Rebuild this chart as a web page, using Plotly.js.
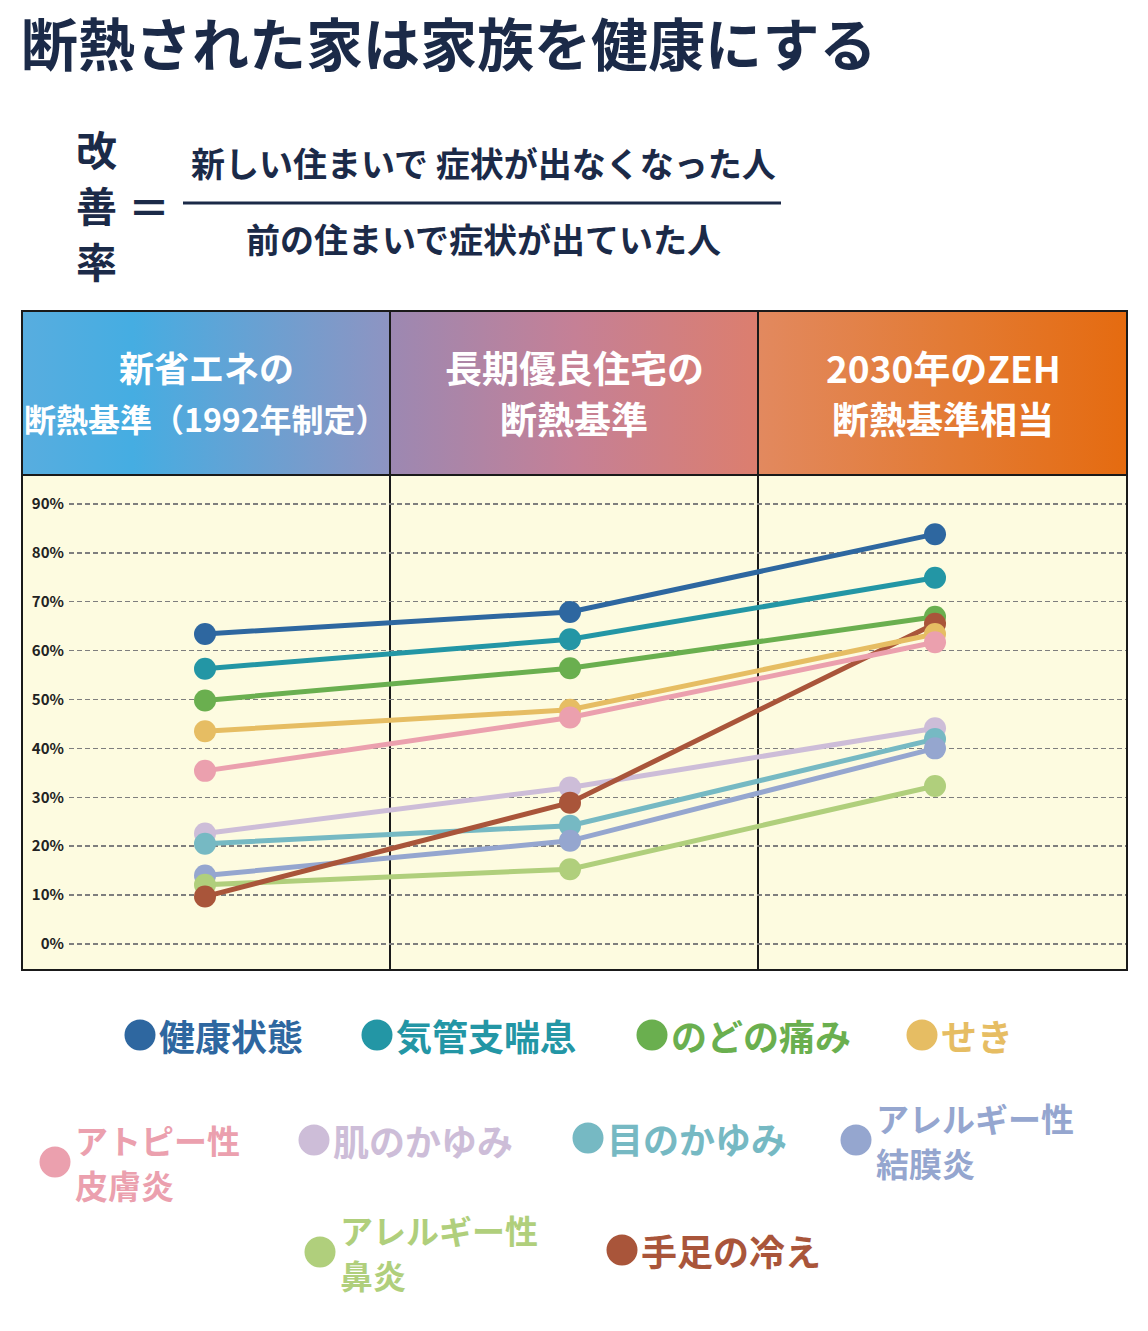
<!DOCTYPE html>
<html>
<head>
<meta charset="utf-8">
<script src="https://cdn.plot.ly/plotly-3.0.1.min.js"></script>
<style>
  body { margin: 0; background: #fff; }
  #chart { width: 1148px; height: 1331px; }
</style>
</head>
<body>
<div id="chart"></div>
<script>
// --- data ---
const standards = ['新省エネの断熱基準（1992年制定）', '長期優良住宅の断熱基準', '2030年のZEH断熱基準相当'];
const headerLines = [
  ['新省エネの', '断熱基準（1992年制定）'],
  ['長期優良住宅の', '断熱基準'],
  ['2030年のZEH', '断熱基準相当']
];
const symptoms = ['健康状態', '気管支喘息', 'のどの痛み', 'せき', 'アトピー性皮膚炎',
  '肌のかゆみ', '目のかゆみ', 'アレルギー性結膜炎', 'アレルギー性鼻炎', '手足の冷え'];
const legendLabels = ['健康状態', '気管支喘息', 'のどの痛み', 'せき', 'アトピー性<br>皮膚炎',
  '肌のかゆみ', '目のかゆみ', 'アレルギー性<br>結膜炎', 'アレルギー性<br>鼻炎', '手足の冷え'];
const kenko = [63.4, 67.9, 83.8];
const kikanshi = [56.3, 62.3, 74.9];
const nodo = [49.8, 56.4, 66.9];
const seki = [43.5, 47.9, 63.4];
const atopy = [35.4, 46.3, 61.7];
const hada = [22.6, 32.0, 44.1];
const me = [20.5, 24.2, 41.9];
const ketsumaku = [14.0, 21.1, 40.0];
const bien = [12.1, 15.3, 32.3];
const hiecho = [9.7, 28.9, 65.5];
const yTicks = [0, 10, 20, 30, 40, 50, 60, 70, 80, 90];
const yTickText = yTicks.map(v => v + '%');

// --- styling ---
const series = [kenko, kikanshi, nodo, seki, atopy, hada, me, ketsumaku, bien, hiecho];
const colors = ['#2e67a0', '#2396a5', '#6aaf4f', '#e6bd63', '#eba0ae',
  '#cdbdd8', '#76b9c3', '#95a6cf', '#b0cf7c', '#a9553a'];
// drawing order so the overlapping dots stack like the original
const drawOrder = [0, 1, 2, 5, 6, 7, 8, 9, 3, 4];
// legend dot centres in page pixels
const legendDots = [[140, 1035], [377, 1035], [652, 1035], [922, 1035],
  [55, 1162], [314, 1140], [588, 1138], [856, 1140], [320, 1252], [622, 1250]];
const navy = '#1b2a48';
const FONT = '"Noto Sans CJK JP", "Noto Sans", sans-serif';

const L = 69, R = 1127, T = 475, B = 970;
const px = x => (x - L) / (R - L);
const py = y => (B - y) / (B - T);

function ann(text, x, y, size, color, xanchor) {
  return {
    text: text, x: px(x), y: py(y), xref: 'paper', yref: 'paper',
    xanchor: xanchor || 'center', yanchor: 'middle', showarrow: false,
    align: xanchor || 'center', borderpad: 0,
    font: {family: FONT, size: size, color: color, weight: 700}
  };
}

let traces = drawOrder.map(i => ({
  type: 'scatter',
  mode: 'lines+markers',
  name: symptoms[i],
  x: standards,
  y: series[i],
  line: {color: colors[i], width: 5},
  marker: {color: colors[i], size: 22},
  hoverinfo: 'skip',
  showlegend: false
}));

let annotations = [];
annotations.push(ann('断熱された家は家族を健康にする', 20, 41, 57, navy, 'left'));
['改', '善', '率'].forEach((ch, k) => annotations.push(ann(ch, 96, 148 + 56 * k, 41, navy)));
annotations.push(ann('＝', 149, 205, 42, navy));
annotations.push(ann('新しい住まいで 症状が出なくなった人', 483, 163, 34, navy));
annotations.push(ann('前の住まいで症状が出ていた人', 483, 238, 34, navy));

const colCentres = [206, 574, 943];
headerLines.forEach((lines, c) => {
  annotations.push(ann(lines[0], colCentres[c], 367, c === 0 ? 35 : 37, '#ffffff'));
  annotations.push(ann(lines[1], colCentres[c], 418, c === 0 ? 32 : 37, '#ffffff'));
});

let shapes = [];
// cream panel left of the gridlines
shapes.push({type: 'rect', xref: 'paper', yref: 'paper', x0: px(22), x1: px(1127), y0: py(970), y1: py(475),
  fillcolor: '#fdfbe0', line: {width: 0}, layer: 'below'});

legendLabels.forEach((lab, i) => {
  const [dx, dy] = legendDots[i];
  shapes.push({type: 'circle', xref: 'paper', yref: 'paper', xsizemode: 'pixel', ysizemode: 'pixel',
    xanchor: px(dx), yanchor: py(dy), x0: -15.5, x1: 15.5, y0: -15.5, y1: 15.5,
    fillcolor: colors[i], line: {width: 0}});
  const parts = lab.split('<br>');
  if (parts.length === 1) {
    annotations.push(ann(parts[0], dx + 18, dy, 36, colors[i], 'left'));
  } else {
    annotations.push(ann(parts[0], dx + 19, dy - 22.5, 33, colors[i], 'left'));
    annotations.push(ann(parts[1], dx + 19, dy + 22.5, 33, colors[i], 'left'));
  }
});

// fraction bar
shapes.push({type: 'line', xref: 'paper', yref: 'paper', x0: px(183), x1: px(781), y0: py(203), y1: py(203),
  line: {color: navy, width: 3}});
// frame and column dividers
const black = '#1a1a1a';
shapes.push({type: 'rect', xref: 'paper', yref: 'paper', x0: px(22), x1: px(1127), y0: py(970), y1: py(311),
  line: {color: black, width: 2}});
shapes.push({type: 'line', xref: 'paper', yref: 'paper', x0: px(22), x1: px(1127), y0: py(475), y1: py(475),
  line: {color: black, width: 2}});
[390, 758].forEach(x => shapes.push({type: 'line', xref: 'paper', yref: 'paper', x0: px(x), x1: px(x),
  y0: py(970), y1: py(311), line: {color: black, width: 2}, layer: 'below'}));

// gradient header bands
const svg = "<svg xmlns='http://www.w3.org/2000/svg' width='1105' height='164' viewBox='0 0 1105 164' preserveAspectRatio='none'>" +
  "<defs>" +
  "<linearGradient id='a'><stop offset='0' stop-color='#58addf'/><stop offset='0.3' stop-color='#45ade2'/><stop offset='1' stop-color='#8e94c2'/></linearGradient>" +
  "<linearGradient id='b'><stop offset='0' stop-color='#9c88b2'/><stop offset='0.5' stop-color='#c58096'/><stop offset='1' stop-color='#dc7e6e'/></linearGradient>" +
  "<linearGradient id='c'><stop offset='0' stop-color='#e2895f'/><stop offset='0.55' stop-color='#e37a32'/><stop offset='1' stop-color='#e56b10'/></linearGradient>" +
  "</defs>" +
  "<rect x='0' y='0' width='368' height='164' fill='url(#a)'/>" +
  "<rect x='368' y='0' width='368' height='164' fill='url(#b)'/>" +
  "<rect x='736' y='0' width='369' height='164' fill='url(#c)'/>" +
  "</svg>";

const layout = {
  width: 1148,
  height: 1331,
  margin: {l: L, r: 1148 - R, t: T, b: 1331 - B, pad: 0},
  paper_bgcolor: '#ffffff',
  plot_bgcolor: '#fdfbe0',
  xaxis: {
    type: 'category',
    categoryarray: standards,
    range: [-0.3726, 2.526],
    showgrid: false, zeroline: false, showline: false, showticklabels: false, ticks: ''
  },
  yaxis: {
    range: [-5.32, 95.9],
    tickvals: yTicks,
    ticktext: yTickText,
    showgrid: true,
    gridcolor: '#7e7e7e',
    gridwidth: 1.5,
    griddash: '5px,3px',
    zeroline: false,
    showline: false,
    ticks: '',
    ticklabelstandoff: 4,
    tickfont: {family: FONT, size: 15, color: '#222222', weight: 600}
  },
  images: [{
    source: 'data:image/svg+xml;charset=utf-8,' + encodeURIComponent(svg),
    xref: 'paper', yref: 'paper', x: px(22), y: py(311),
    sizex: px(1127) - px(22), sizey: (475 - 311) / (B - T),
    xanchor: 'left', yanchor: 'top', sizing: 'stretch', layer: 'below'
  }],
  shapes: shapes,
  annotations: annotations,
  showlegend: false
};

Plotly.newPlot('chart', traces, layout, {staticPlot: true, displayModeBar: false});
</script>
</body>
</html>
